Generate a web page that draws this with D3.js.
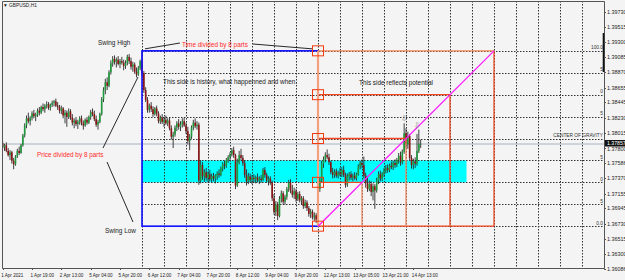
<!DOCTYPE html>
<html>
<head>
<meta charset="utf-8">
<script src="https://cdn.jsdelivr.net/npm/d3@7"></script>
<style>
body { margin: 0; background: #f4f4f4; }
text { font-family: 'Liberation Sans', Arial, sans-serif; }
</style>
</head>
<body>
<div class="chart"></div>
<script>
var width = 625
var height = 280
var plot = {left: 2, top: 1, right: 604, bottom: 268}

// GBPUSD H1 bars, [open, high, low, close]
var candles = [
  [1.3787,1.3790,1.3779,1.3781],[1.3781,1.3786,1.3776,1.3784],[1.3784,1.3788,1.3774,1.3776],[1.3776,1.3780,1.3768,1.3770],
  [1.3770,1.3777,1.3763,1.3774],[1.3774,1.3776,1.3758,1.3762],[1.3762,1.3766,1.3750,1.3757],[1.3757,1.3770,1.3755,1.3768],
  [1.3768,1.3779,1.3766,1.3776],[1.3776,1.3782,1.3770,1.3773],[1.3773,1.3786,1.3772,1.3784],[1.3784,1.3800,1.3782,1.3798],
  [1.3798,1.3815,1.3795,1.3812],[1.3812,1.3826,1.3808,1.3822],[1.3822,1.3830,1.3815,1.3818],[1.3818,1.3825,1.3812,1.3823],
  [1.3823,1.3832,1.3819,1.3829],[1.3829,1.3834,1.3822,1.3825],[1.3825,1.3830,1.3818,1.3827],[1.3827,1.3836,1.3824,1.3833],
  [1.3833,1.3838,1.3826,1.3830],[1.3830,1.3840,1.3828,1.3838],[1.3838,1.3843,1.3832,1.3835],[1.3835,1.3842,1.3830,1.3840],
  [1.3840,1.3846,1.3836,1.3842],[1.3842,1.3845,1.3834,1.3837],[1.3837,1.3843,1.3833,1.3841],[1.3841,1.3847,1.3838,1.3844],
  [1.3844,1.3848,1.3839,1.3846],[1.3846,1.3850,1.3838,1.3840],[1.3840,1.3845,1.3834,1.3838],[1.3838,1.3841,1.3829,1.3833],
  [1.3833,1.3840,1.3828,1.3836],[1.3836,1.3838,1.3822,1.3826],[1.3826,1.3834,1.3815,1.3830],[1.3830,1.3833,1.3810,1.3824],
  [1.3824,1.3836,1.3821,1.3832],[1.3832,1.3835,1.3820,1.3823],[1.3823,1.3828,1.3812,1.3816],[1.3816,1.3822,1.3808,1.3819],
  [1.3819,1.3824,1.3811,1.3814],[1.3814,1.3820,1.3807,1.3817],[1.3817,1.3825,1.3813,1.3822],[1.3822,1.3826,1.3812,1.3815],
  [1.3815,1.3819,1.3806,1.3812],[1.3812,1.3822,1.3810,1.3820],[1.3820,1.3824,1.3813,1.3816],[1.3816,1.3826,1.3814,1.3824],
  [1.3824,1.3834,1.3820,1.3831],[1.3831,1.3836,1.3825,1.3828],[1.3828,1.3833,1.3818,1.3821],[1.3821,1.3826,1.3810,1.3813],
  [1.3813,1.3820,1.3806,1.3817],[1.3817,1.3830,1.3815,1.3828],[1.3828,1.3852,1.3826,1.3849],[1.3849,1.3866,1.3845,1.3862],
  [1.3862,1.3878,1.3856,1.3873],[1.3873,1.3880,1.3862,1.3868],[1.3868,1.3890,1.3866,1.3887],[1.3887,1.3904,1.3884,1.3900],
  [1.3900,1.3910,1.3895,1.3906],[1.3906,1.3911,1.3898,1.3902],[1.3902,1.3908,1.3894,1.3905],[1.3905,1.3910,1.3897,1.3899],
  [1.3899,1.3906,1.3893,1.3903],[1.3903,1.3909,1.3898,1.3901],[1.3901,1.3905,1.3890,1.3896],[1.3896,1.3904,1.3892,1.3900],
  [1.3900,1.3912,1.3897,1.3909],[1.3909,1.3913,1.3899,1.3903],[1.3903,1.3908,1.3891,1.3895],[1.3895,1.3902,1.3888,1.3898],
  [1.3898,1.3901,1.3885,1.3888],[1.3888,1.3894,1.3880,1.3884],[1.3884,1.3896,1.3882,1.3893],[1.3893,1.3905,1.3890,1.3903],
  [1.3903,1.39175,1.3882,1.3886],[1.3886,1.3889,1.3858,1.3862],[1.3862,1.3866,1.3845,1.3848],[1.3848,1.3852,1.3830,1.3834],
  [1.3834,1.3843,1.3830,1.3840],[1.3840,1.3845,1.3831,1.3835],[1.3835,1.3839,1.3824,1.3828],[1.3828,1.3838,1.3826,1.3836],
  [1.3836,1.3840,1.3825,1.3829],[1.3829,1.3832,1.3815,1.3818],[1.3818,1.3826,1.3814,1.3823],[1.3823,1.3828,1.3814,1.3817],
  [1.3817,1.3824,1.3810,1.3820],[1.3820,1.3826,1.3813,1.3815],[1.3815,1.3822,1.3811,1.3819],[1.3819,1.3823,1.3805,1.3808],
  [1.3808,1.3812,1.3792,1.3796],[1.3796,1.3803,1.3780,1.3799],[1.3799,1.3812,1.3796,1.3809],[1.3809,1.3818,1.3804,1.3815],
  [1.3815,1.3821,1.3806,1.3810],[1.3810,1.3818,1.3804,1.3814],[1.3814,1.3822,1.3809,1.3818],[1.3818,1.3823,1.3810,1.3812],
  [1.3812,1.3816,1.3800,1.3804],[1.3804,1.3810,1.3785,1.3790],[1.3790,1.3800,1.3777,1.3796],[1.3796,1.3812,1.3793,1.3809],
  [1.3809,1.3820,1.3805,1.3816],[1.3816,1.3822,1.3808,1.3811],[1.3811,1.3818,1.3806,1.3813],[1.3813,1.3816,1.3728,1.3734],
  [1.3734,1.3763,1.3730,1.3756],[1.3756,1.3760,1.3735,1.3740],[1.3740,1.3750,1.3732,1.3746],[1.3746,1.3752,1.3734,1.3738],
  [1.3738,1.3747,1.3731,1.3743],[1.3743,1.3749,1.3733,1.3736],[1.3736,1.3744,1.3731,1.3740],[1.3740,1.3745,1.3733,1.3737],
  [1.3737,1.3743,1.3730,1.3741],[1.3741,1.3747,1.3735,1.3744],[1.3744,1.3750,1.3738,1.3742],[1.3742,1.3754,1.3740,1.3751],
  [1.3751,1.3760,1.3747,1.3757],[1.3757,1.3762,1.3750,1.3755],[1.3755,1.3766,1.3752,1.3763],[1.3763,1.3770,1.3759,1.3767],
  [1.3767,1.3774,1.3762,1.3771],[1.3771,1.3780,1.3768,1.3777],[1.3777,1.3782,1.3766,1.3770],[1.3770,1.3772,1.3722,1.3727],
  [1.3727,1.3765,1.3725,1.3760],[1.3760,1.3776,1.3757,1.3770],[1.3770,1.3779,1.3762,1.3766],[1.3766,1.3770,1.3755,1.3759],
  [1.3759,1.3763,1.3738,1.3742],[1.3742,1.3750,1.3727,1.3733],[1.3733,1.3745,1.3729,1.3740],[1.3740,1.3744,1.3731,1.3735],
  [1.3735,1.3742,1.3729,1.3738],[1.3738,1.3743,1.3732,1.3736],[1.3736,1.3741,1.3730,1.3739],[1.3739,1.3744,1.3732,1.3734],
  [1.3734,1.3740,1.3729,1.3737],[1.3737,1.3742,1.3731,1.3735],[1.3735,1.3752,1.3733,1.3749],[1.3749,1.3753,1.3738,1.3742],
  [1.3742,1.3745,1.3731,1.3734],[1.3734,1.3740,1.3727,1.3737],[1.3737,1.3740,1.3728,1.3731],[1.3731,1.3734,1.3705,1.3709],
  [1.3709,1.3715,1.3686,1.3690],[1.3690,1.3705,1.3684,1.3700],[1.3700,1.3704,1.3678,1.3684],[1.3684,1.3712,1.3682,1.3708],
  [1.3708,1.3720,1.3703,1.3716],[1.3716,1.3719,1.3700,1.3704],[1.3704,1.3714,1.3700,1.3711],[1.3711,1.3725,1.3707,1.3722],
  [1.3722,1.3735,1.3718,1.3731],[1.3731,1.3736,1.3716,1.3720],[1.3720,1.3728,1.3710,1.3714],[1.3714,1.3724,1.3708,1.3719],
  [1.3719,1.3722,1.3704,1.3708],[1.3708,1.3718,1.3705,1.3715],[1.3715,1.3719,1.3703,1.3706],[1.3706,1.3712,1.3700,1.3709],
  [1.3709,1.3712,1.3694,1.3698],[1.3698,1.3707,1.3695,1.3703],[1.3703,1.3706,1.3691,1.3695],[1.3695,1.3698,1.3683,1.3687],
  [1.3687,1.3694,1.3681,1.3690],[1.3690,1.3693,1.3679,1.3682],[1.3682,1.3689,1.3677,1.3685],[1.3685,1.3688,1.3674,1.3679],
  [1.3679,1.3726,1.36695,1.3722],[1.3722,1.3738,1.3718,1.3734],[1.3734,1.3762,1.3731,1.3758],[1.3758,1.3768,1.3752,1.3764],
  [1.3764,1.3774,1.3760,1.3770],[1.3770,1.3778,1.3764,1.3767],[1.3767,1.3772,1.3756,1.3760],[1.3760,1.3762,1.3743,1.3746],
  [1.3746,1.3752,1.3737,1.3742],[1.3742,1.3750,1.3738,1.3747],[1.3747,1.3751,1.3738,1.3741],[1.3741,1.3748,1.3737,1.3745],
  [1.3745,1.3752,1.3740,1.3743],[1.3743,1.3753,1.3739,1.3749],[1.3749,1.3755,1.3739,1.3742],[1.3742,1.3745,1.3724,1.3728],
  [1.3728,1.3744,1.3725,1.3740],[1.3740,1.3746,1.3734,1.3743],[1.3743,1.3747,1.3735,1.3738],[1.3738,1.3744,1.3733,1.3741],
  [1.3741,1.3746,1.3735,1.3737],[1.3737,1.3745,1.3734,1.3743],[1.3743,1.3757,1.3741,1.3754],[1.3754,1.3762,1.3750,1.3759],
  [1.3759,1.3764,1.3751,1.3756],[1.3756,1.3768,1.3737,1.3741],[1.3741,1.3745,1.3724,1.3730],[1.3730,1.3738,1.3718,1.3722],
  [1.3722,1.3734,1.3719,1.3729],[1.3729,1.3733,1.3712,1.3718],[1.3718,1.3730,1.3706,1.3726],[1.3726,1.3729,1.3694,1.3720],
  [1.3720,1.3738,1.3717,1.3734],[1.3734,1.3747,1.3729,1.3743],[1.3743,1.3748,1.3733,1.3737],[1.3737,1.3746,1.3733,1.3744],
  [1.3744,1.3752,1.3739,1.3748],[1.3748,1.3756,1.3744,1.3752],[1.3752,1.3757,1.3745,1.3749],[1.3749,1.3758,1.3746,1.3755],
  [1.3755,1.3761,1.3750,1.3753],[1.3753,1.3762,1.3749,1.3759],[1.3759,1.3764,1.3752,1.3756],[1.3756,1.3766,1.3753,1.3763],
  [1.3763,1.3773,1.3758,1.3769],[1.3769,1.3775,1.3755,1.3760],[1.3760,1.3778,1.3757,1.3775],[1.3775,1.3815,1.3772,1.3801],
  [1.3801,1.3808,1.3780,1.3785],[1.3785,1.3803,1.3779,1.3797],[1.3797,1.3800,1.3762,1.3766],[1.3766,1.3770,1.3751,1.3756],
  [1.3756,1.3765,1.3750,1.3761],[1.3761,1.3767,1.3752,1.3758],[1.3758,1.3800,1.3755,1.3776],[1.3776,1.3806,1.3773,1.3786],
  [1.3786,1.3792,1.3780,1.3786]
]

var timeLabels = ['1 Apr 2021','1 Apr 19:00','2 Apr 13:00','5 Apr 04:00','5 Apr 20:00','6 Apr 12:00','7 Apr 04:00',
  '7 Apr 20:00','8 Apr 12:00','9 Apr 04:00','9 Apr 20:00','12 Apr 13:00','13 Apr 05:00','13 Apr 21:00','14 Apr 13:00']
var barsPerLabel = 16

var priceTicks = [1.39730,1.39515,1.39300,1.39085,1.38870,1.38655,1.38445,1.38230,1.38015,1.37800,
  1.37586,1.37370,1.37155,1.36945,1.36730,1.36515,1.36300,1.36086]

var swingHighBar = 76
var swingLowBar = 172
var swingHigh = 1.39175
var swingLow = 1.36695
var lastPrice = 1.37857
var fibParts = 8
var fibNames = ['0.0','12.5','25.0','37.5','CENTER OF GRAVITY','62.5','75.0','87.5','100.0']
var zoneParts = [2, 3]
var zoneEndBar = 253
var timeGridStep = 12
var timeGridCount = 21
var fractals = [[219, 1.3822], [226, 1.3813]]

var x = d3.scaleLinear().domain([0, 228]).range([2.67, 420.67])
var y = d3.scaleLinear().domain([1.393, 1.363]).range([42, 254.1])

var svg = d3.select('.chart')
  .append('svg')
  .attr('width', width)
  .attr('height', height)
  .style('display', 'block')

svg.append('rect').attr('width', width).attr('height', height).attr('fill', '#f4f4f4')

svg.append('clipPath').attr('id', 'clip')
  .append('rect')
  .attr('x', plot.left).attr('y', plot.top)
  .attr('width', plot.right - plot.left).attr('height', plot.bottom - plot.top)

var g = svg.append('g').attr('clip-path', 'url(#clip)')

var range = swingHigh - swingLow
var levels = d3.range(fibParts + 1).map(function(k) { return swingLow + range * k / fibParts })

// cyan zone
g.append('rect')
  .attr('x', x(swingHighBar))
  .attr('y', y(levels[zoneParts[1]]))
  .attr('width', x(zoneEndBar) - x(swingHighBar))
  .attr('height', y(levels[zoneParts[0]]) - y(levels[zoneParts[1]]))
  .attr('fill', '#00ffff')

// dotted grid, vertical every 12 bars from the swing high
g.selectAll('line.vgrid')
  .data(d3.range(timeGridCount))
  .enter().append('line')
  .attr('class', 'vgrid')
  .attr('x1', function(d) { return Math.round(x(swingHighBar + d * timeGridStep)) + 0.5 })
  .attr('x2', function(d) { return Math.round(x(swingHighBar + d * timeGridStep)) + 0.5 })
  .attr('y1', plot.top).attr('y2', plot.bottom)
  .attr('stroke', '#333').attr('stroke-width', 1).attr('stroke-dasharray', '1.5,1.5')

g.selectAll('line.hgrid')
  .data(levels)
  .enter().append('line')
  .attr('class', 'hgrid')
  .attr('x1', x(swingHighBar)).attr('x2', plot.right)
  .attr('y1', function(d) { return Math.round(y(d)) + 0.5 })
  .attr('y2', function(d) { return Math.round(y(d)) + 0.5 })
  .attr('stroke', '#333').attr('stroke-width', 1).attr('stroke-dasharray', '1.5,1.5')

// current price line
g.append('line')
  .attr('x1', plot.left).attr('x2', plot.right)
  .attr('y1', y(lastPrice)).attr('y2', y(lastPrice))
  .attr('stroke', '#a8b3c0').attr('stroke-width', 1)

// candles
var bars = g.selectAll('g.bar')
  .data(candles)
  .enter().append('g')
  .attr('class', 'bar')

bars.append('line')
  .attr('x1', function(d, i) { return x(i) }).attr('x2', function(d, i) { return x(i) })
  .attr('y1', function(d) { return y(d[1]) }).attr('y2', function(d) { return y(d[2]) })
  .attr('stroke', '#2a2a2a').attr('stroke-width', 0.9)

bars.append('rect')
  .attr('x', function(d, i) { return x(i) - 0.8 })
  .attr('width', 1.6)
  .attr('y', function(d) { return y(Math.max(d[0], d[3])) })
  .attr('height', function(d) { return Math.max(0.6, Math.abs(y(d[0]) - y(d[3]))) })
  .attr('fill', function(d) { return d[3] >= d[0] ? '#1e9a3c' : '#8a1515' })

// blue history box
g.append('rect')
  .attr('x', x(swingHighBar)).attr('y', y(swingHigh))
  .attr('width', x(swingLowBar) - x(swingHighBar))
  .attr('height', y(swingLow) - y(swingHigh))
  .attr('fill', 'none').attr('stroke', '#1010ff').attr('stroke-width', 1.6)

// potential side: staircase of quarters
var span = swingLowBar - swingHighBar
var quarters = d3.range(5)
var x0 = x(swingLowBar)

g.selectAll('line.qh')
  .data(quarters)
  .enter().append('line')
  .attr('x1', x0)
  .attr('x2', function(d) { return d === 0 ? x(swingLowBar + span) : x(swingLowBar + span * d / 4) })
  .attr('y1', function(d) { return y(swingLow + range * d / 4) })
  .attr('y2', function(d) { return y(swingLow + range * d / 4) })
  .attr('stroke', function(d) { return d === 4 ? '#f4875a' : '#f2461e' })
  .attr('stroke-width', 1.3)

g.selectAll('line.qv')
  .data(quarters.slice(1))
  .enter().append('line')
  .attr('x1', function(d) { return x(swingLowBar + span * d / 4) })
  .attr('x2', function(d) { return x(swingLowBar + span * d / 4) })
  .attr('y1', function(d) { return y(swingLow + range * d / 4) })
  .attr('y2', y(swingLow))
  .attr('stroke', function(d) { return d >= 3 ? '#ee4a26' : '#f08a64' })
  .attr('stroke-width', 1.3)

g.append('line')
  .attr('x1', x0).attr('x2', x0)
  .attr('y1', y(swingHigh)).attr('y2', y(swingLow))
  .attr('stroke', '#f4a07e').attr('stroke-width', 2.2)

g.append('line')
  .attr('x1', x0).attr('y1', y(swingLow))
  .attr('x2', x(swingLowBar + span)).attr('y2', y(swingHigh))
  .attr('stroke', '#ff1cff').attr('stroke-width', 1.3)

g.selectAll('rect.mark')
  .data(quarters)
  .enter().append('rect')
  .attr('x', x0 - 5.5).attr('width', 11).attr('height', 10)
  .attr('y', function(d) { return y(swingLow + range * d / 4) - 5 })
  .attr('fill', 'none').attr('stroke', '#f23c10').attr('stroke-width', 1)

// fractal arrows
g.selectAll('text.fr')
  .data(fractals)
  .enter().append('text')
  .attr('x', function(d) { return x(d[0]) }).attr('y', function(d) { return y(d[1]) + 3 })
  .attr('text-anchor', 'middle')
  .style('font-family', 'DejaVu Sans').style('font-size', '8px')
  .attr('fill', '#8a8a8a')
  .text('\u21E9')

// fib level texts at right edge
g.selectAll('text.lvl')
  .data(levels)
  .enter().append('text')
  .attr('x', plot.right - 1)
  .attr('y', function(d) { return y(d) - 1.5 })
  .attr('text-anchor', 'end')
  .style('font-size', '4.8px')
  .attr('fill', '#333')
  .text(function(d, i) {
    var s = fibNames[i]
    return (i === 0 || i === 4 || i === fibParts) ? s : s.slice(-1)
  })

// annotations
var ann = svg.append('g').style('font-size', '6.4px')
ann.append('text').attr('x', 3).attr('y', 7).style('font-size', '4.8px').attr('fill', '#222').text('\u25BC GBPUSD,H1')
ann.append('text').attr('x', x(swingHighBar) - 44).attr('y', y(swingHigh) - 6).attr('fill', '#222').text('Swing High')
ann.append('text').attr('x', x(swingHighBar) - 37).attr('y', y(swingLow) + 7).attr('fill', '#222').text('Swing Low')
ann.append('text').attr('x', 37).attr('y', 157).attr('fill', '#ff2a2a').text('Price divided by 8 parts')
ann.append('text').attr('x', 182).attr('y', 47).attr('fill', '#ff2a2a').text('Time divided by 8 parts')
ann.append('text').attr('x', 163).attr('y', 84).attr('fill', '#1a1a1a').text('This side is history, what happenned and when.')
ann.append('text').attr('x', 359).attr('y', 85).attr('fill', '#1a1a1a').text('This side reflects potential')

var pointers = [
  [x(swingHighBar) + 3, y(swingHigh) - 2, 180, 43],
  [253, 44, x(swingLowBar) - 6, y(swingHigh) - 2],
  [103, 148, x(swingHighBar) - 4, 77],
  [107, 162, x(swingHighBar) - 9, 222]
]
svg.selectAll('line.ptr')
  .data(pointers)
  .enter().append('line')
  .attr('x1', function(d) { return d[0] }).attr('y1', function(d) { return d[1] })
  .attr('x2', function(d) { return d[2] }).attr('y2', function(d) { return d[3] })
  .attr('stroke', '#111').attr('stroke-width', 0.9)

// frame
svg.append('path')
  .attr('d', 'M' + (plot.left + 0.5) + ',' + (plot.top + 0.5) + 'H' + (plot.right + 0.5) + 'V' + (plot.bottom + 0.5) + 'H' + (plot.left + 0.5) + 'Z')
  .attr('fill', 'none').attr('stroke', '#555').attr('stroke-width', 1)

svg.append('line')
  .attr('x1', plot.right - 0.5).attr('x2', plot.right - 0.5)
  .attr('y1', 33).attr('y2', 72)
  .attr('stroke', '#111').attr('stroke-width', 1.6)

// price axis
var py = svg.append('g')
py.selectAll('text')
  .data(priceTicks)
  .enter().append('text')
  .attr('x', plot.right + 3)
  .attr('y', function(d) { return y(d) + (d === 1.378 ? 3.2 : 2) })
  .style('font-size', '5.4px')
  .attr('fill', '#222')
  .text(function(d) { return d.toFixed(5) })
py.selectAll('line')
  .data(priceTicks)
  .enter().append('line')
  .attr('x1', plot.right).attr('x2', plot.right + 2)
  .attr('y1', function(d) { return Math.round(y(d)) + 0.5 })
  .attr('y2', function(d) { return Math.round(y(d)) + 0.5 })
  .attr('stroke', '#555')

py.append('rect')
  .attr('x', plot.right + 1).attr('y', y(lastPrice) - 4)
  .attr('width', 20).attr('height', 6.5).attr('fill', '#111')
py.append('text')
  .attr('x', plot.right + 3).attr('y', y(lastPrice) + 1.2)
  .style('font-size', '5.2px').attr('fill', '#fff')
  .text(lastPrice.toFixed(5))

// time axis
var tx = svg.append('g')
tx.selectAll('text')
  .data(timeLabels)
  .enter().append('text')
  .attr('x', function(d, i) { return x(i * barsPerLabel) - 1.5 })
  .attr('y', 277)
  .style('font-size', '4.6px')
  .attr('fill', '#222')
  .text(function(d) { return d })
tx.selectAll('line')
  .data(timeLabels)
  .enter().append('line')
  .attr('x1', function(d, i) { return Math.round(x(i * barsPerLabel)) + 0.5 })
  .attr('x2', function(d, i) { return Math.round(x(i * barsPerLabel)) + 0.5 })
  .attr('y1', plot.bottom).attr('y2', plot.bottom + 2)
  .attr('stroke', '#555')
</script>
</body>
</html>
